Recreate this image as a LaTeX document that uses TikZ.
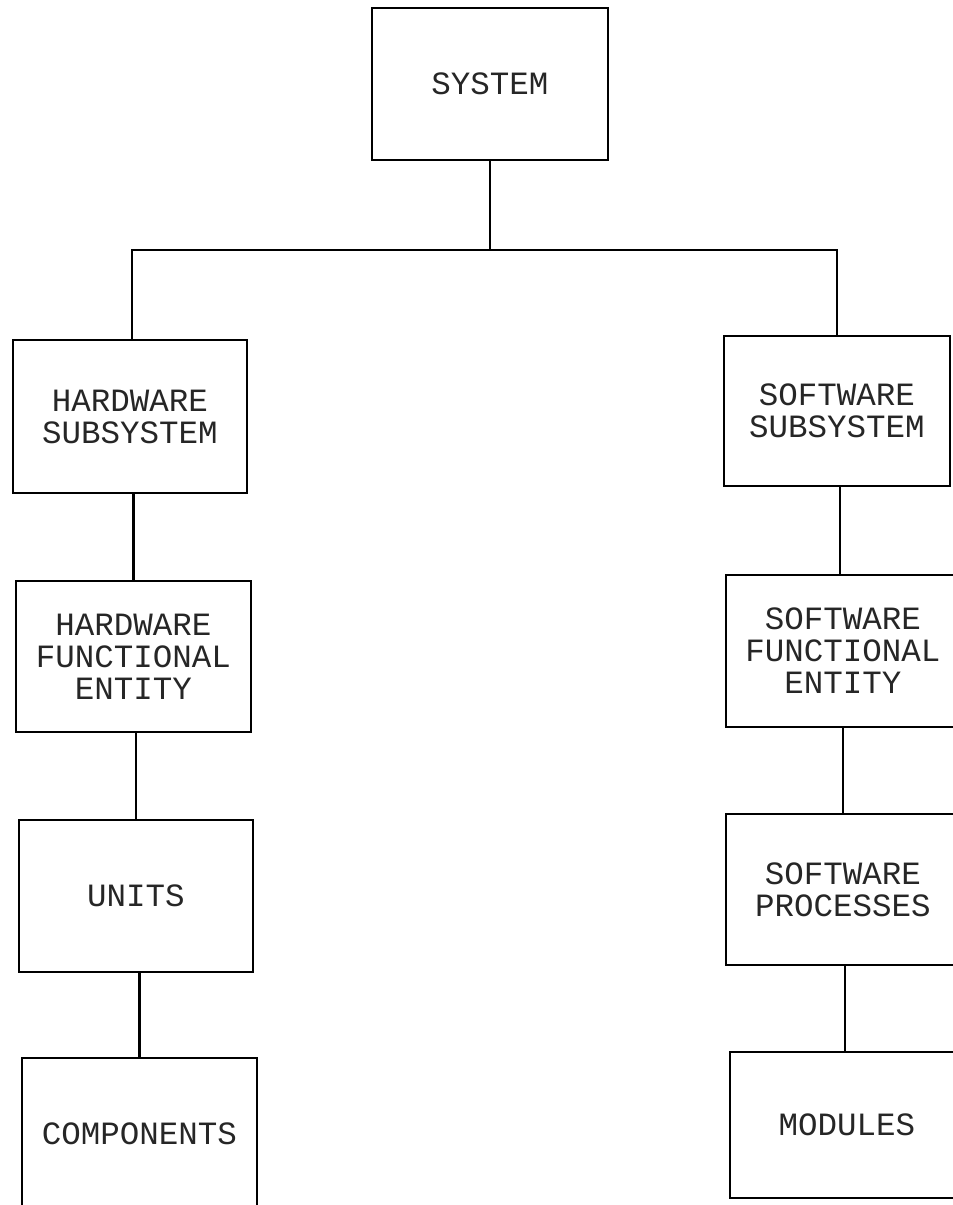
\documentclass[tikz,border=0pt]{standalone}
\usepackage{fontspec}
\newfontfamily\courfont{Liberation Mono}
\begin{document}
\begin{tikzpicture}[x=1pt,y=-1pt,
  box/.style={draw=black,line width=2.6pt,inner sep=0pt,align=center,
    font=\courfont\fontsize{32.5}{32}\selectfont,text=black!85},
  link/.style={draw=black,line width=2.6pt}]
\useasboundingbox (0,0) rectangle (953,1205);
\clip (0,0) rectangle (953,1205);
\node[box,minimum width=236pt,minimum height=152pt] (sys) at (490,84) {SYSTEM};
\node[box,minimum width=234pt,minimum height=153pt] (hs) at (130,416.5) {HARDWARE\\SUBSYSTEM};
\node[box,minimum width=235pt,minimum height=151pt] (hfe) at (133.5,656.5) {HARDWARE\\FUNCTIONAL\\ENTITY};
\node[box,minimum width=234pt,minimum height=152pt] (units) at (136,896) {UNITS};
\node[box,minimum width=235pt,minimum height=152pt] (comp) at (139.5,1134) {COMPONENTS};
\node[box,minimum width=226pt,minimum height=150pt] (ss) at (837,411) {SOFTWARE\\SUBSYSTEM};
\node[box,minimum width=234pt,minimum height=152pt] (sfe) at (843,651) {SOFTWARE\\FUNCTIONAL\\ENTITY};
\node[box,minimum width=234pt,minimum height=151pt] (sp) at (843,889.5) {SOFTWARE\\PROCESSES};
\node[box,minimum width=234pt,minimum height=146pt] (mod) at (847,1125) {MODULES};
\coordinate (bar) at (490,250);
\draw[link] (sys.south) -- (bar);
\draw[link] (hs.north -| 132,0) -- (132,250) -- (837,250) -- (ss.north);
\draw[link] (hs.south -| hfe.north) -- (hfe.north);
\draw[link] (hfe.south -| units.north) -- (units.north);
\draw[link] (units.south -| comp.north) -- (comp.north);
\draw[link] (ss.south -| 840,0) -- (sfe.north -| 840,0);
\draw[link] (sfe.south -| sp.north) -- (sp.north);
\draw[link] (sp.south -| 845,0) -- (mod.north -| 845,0);
\end{tikzpicture}
\end{document}
